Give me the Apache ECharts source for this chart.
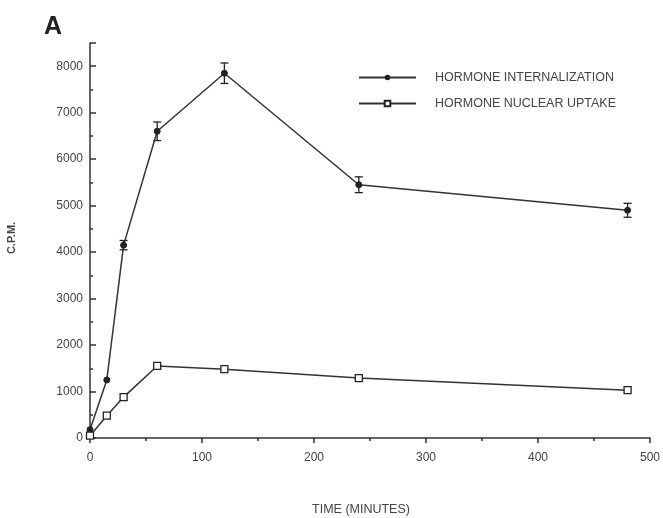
<!DOCTYPE html>
<html><head><meta charset="utf-8">
<script src="https://cdn.jsdelivr.net/npm/echarts@6/dist/echarts.min.js"></script>
<style>html,body{margin:0;padding:0;background:#fff}#c{width:663px;height:518px}</style>
</head><body><div id="c"></div>
<script>
const times = [0, 15, 30, 60, 120, 240, 480];
const internalization = [180, 1250, 4150, 6600, 7850, 5450, 4900];
const internalizationErr = [0, 0, 100, 200, 220, 170, 150];
const nuclearUptake = [50, 480, 880, 1550, 1480, 1290, 1030];
const xTicks = [0, 100, 200, 300, 400, 500];
const yTicks = [0, 1000, 2000, 3000, 4000, 5000, 6000, 7000, 8000];
const seriesNames = ['HORMONE INTERNALIZATION', 'HORMONE NUCLEAR UPTAKE'];

const chart = echarts.init(document.getElementById('c'));
const ink = '#333';
const font = 'Liberation Sans, Arial, sans-serif';

const errData = times.map((t, i) => [t, internalization[i] - internalizationErr[i], internalization[i] + internalizationErr[i]])
  .filter((d, i) => internalizationErr[i] > 0);

chart.setOption({
  animation: false,
  backgroundColor: '#fff',
  title: {text: 'A', left: 39, top: 10, textStyle: {fontSize: 25, fontWeight: 'bold', color: '#222', fontFamily: font}},
  grid: {left: 90, right: 12, top: 43, bottom: 80},
  legend: {
    orient: 'vertical', left: 353, top: 66, itemWidth: 57, itemHeight: 7, itemGap: 13,
    textStyle: {fontSize: 12.5, color: '#444', fontFamily: font, padding: [0, 0, 0, 14]},
    data: seriesNames
  },
  graphic: [
    {type: 'text', style: {text: 'TIME (MINUTES)', x: 361, y: 510, align: 'center', verticalAlign: 'middle', fontSize: 12.5, fill: '#444', fontFamily: font}},
    {type: 'text', x: 12, y: 238, rotation: Math.PI / 2, style: {text: 'C.P.M.', align: 'center', verticalAlign: 'middle', fontSize: 11, fontWeight: 'bold', fill: '#444', fontFamily: font}}
  ],
  xAxis: {
    type: 'value', min: 0, max: 500, interval: 100,
    axisLine: {lineStyle: {color: ink, width: 1.5}},
    axisTick: {show: true, inside: false, length: 5, lineStyle: {color: ink, width: 1.5}},
    minorTick: {show: true, splitNumber: 2, length: 3, lineStyle: {color: ink, width: 1.5}},
    splitLine: {show: false},
    axisLabel: {fontSize: 12, color: '#444', fontFamily: font, margin: 14,
      formatter: v => xTicks.includes(v) ? String(v) : ''}
  },
  yAxis: {
    type: 'value', min: 0, max: 8500, interval: 1000,
    axisLine: {show: true, lineStyle: {color: ink, width: 1.5}},
    axisTick: {show: true, inside: true, length: 6, lineStyle: {color: ink, width: 1.5}},
    minorTick: {show: true, splitNumber: 2, length: 3, lineStyle: {color: ink, width: 1.5}},
    splitLine: {show: false},
    axisLabel: {fontSize: 12, color: '#444', fontFamily: font, margin: 7,
      formatter: v => yTicks.includes(v) ? String(v) : ''}
  },
  series: [
    {
      name: seriesNames[0], type: 'line', data: times.map((t, i) => [t, internalization[i]]),
      symbol: 'circle', symbolSize: 6, z: 3,
      lineStyle: {color: ink, width: 1.5}, itemStyle: {color: '#222', borderColor: '#222'}
    },
    {
      name: seriesNames[1], type: 'line', data: times.map((t, i) => [t, nuclearUptake[i]]),
      symbol: 'rect', symbolSize: 7, z: 3,
      lineStyle: {color: ink, width: 1.5}, itemStyle: {color: '#fff', borderColor: '#222', borderWidth: 1.3}
    },
    {
      type: 'custom', data: errData, z: 2, silent: true,
      renderItem: (params, api) => {
        const x = api.value(0);
        const lo = api.coord([x, api.value(1)]);
        const hi = api.coord([x, api.value(2)]);
        const w = 4;
        const st = {stroke: '#222', lineWidth: 1.3};
        return {type: 'group', children: [
          {type: 'line', shape: {x1: lo[0], y1: lo[1], x2: hi[0], y2: hi[1]}, style: st},
          {type: 'line', shape: {x1: lo[0] - w, y1: lo[1], x2: lo[0] + w, y2: lo[1]}, style: st},
          {type: 'line', shape: {x1: hi[0] - w, y1: hi[1], x2: hi[0] + w, y2: hi[1]}, style: st}
        ]};
      }
    }
  ]
});
</script></body></html>
